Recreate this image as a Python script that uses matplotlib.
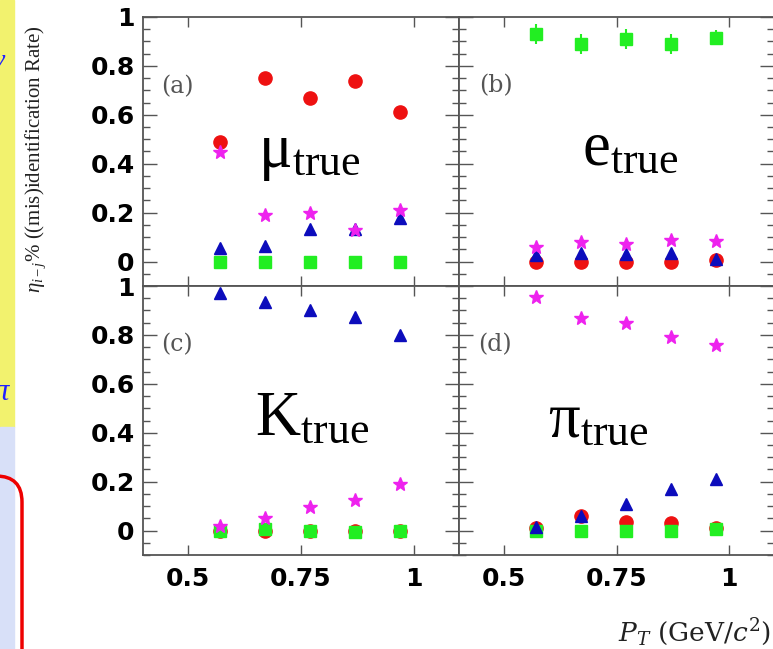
import matplotlib
matplotlib.use("Agg")
import matplotlib.pyplot as plt
from matplotlib.patches import Rectangle, FancyBboxPatch
from matplotlib.ticker import MultipleLocator, FixedLocator

# transverse momentum bin centres (GeV/c)
pt = [0.57, 0.67, 0.77, 0.87, 0.97]

# (a) true muons identified as mu / e / K / pi
a_mu = [0.49, 0.75, 0.67, 0.74, 0.61]
a_e = [0.0, 0.0, 0.0, 0.0, 0.0]
a_k = [0.055, 0.065, 0.135, 0.135, 0.18]
a_pi = [0.45, 0.19, 0.20, 0.13, 0.21]

# (b) true electrons
b_mu = [0.0, 0.0, 0.0, 0.0, 0.005]
b_e = [0.93, 0.89, 0.91, 0.89, 0.915]
b_e_err = [0.04, 0.04, 0.04, 0.04, 0.03]
b_k = [0.025, 0.035, 0.03, 0.035, 0.01]
b_pi = [0.06, 0.08, 0.07, 0.09, 0.085]

# (c) true kaons
c_mu = [0.0, 0.0, 0.0, 0.0, 0.0]
c_e = [0.0, 0.005, 0.0, -0.005, 0.0]
c_k = [0.97, 0.935, 0.90, 0.875, 0.80]
c_pi = [0.02, 0.05, 0.095, 0.125, 0.19]

# (d) true pions
d_mu = [0.01, 0.06, 0.035, 0.03, 0.01]
d_e = [0.0, 0.0, 0.0, 0.0, 0.005]
d_k = [0.015, 0.06, 0.11, 0.17, 0.21]
d_pi = [0.955, 0.87, 0.85, 0.79, 0.76]

panel_tags = ["(a)", "(b)", "(c)", "(d)"]
true_names = ["μ", "e", "K", "π"]
x_ticks = [0.5, 0.75, 1.0]
x_ticklabels = ["0.5", "0.75", "1"]
y_ticks = [0, 0.2, 0.4, 0.6, 0.8, 1.0]
y_ticklabels = ["0", "0.2", "0.4", "0.6", "0.8", "1"]

RED = "#ee1111"
GREEN = "#22ee22"
BLUE = "#0c0cbc"
MAGENTA = "#ee22ee"

plt.rcParams["mathtext.fontset"] = "custom"
plt.rcParams["mathtext.rm"] = "Liberation Serif"
plt.rcParams["mathtext.it"] = "Liberation Serif:italic"

W, H = 773, 649
fig = plt.figure(figsize=(W / 100, H / 100), dpi=100)

# slide decorations on the left edge
fig.patches.append(Rectangle((0, 1 - 427 / H), 14 / W, 427 / H,
                             transform=fig.transFigure, color="#f2f26e", zorder=0))
fig.patches.append(Rectangle((0, 0), 14 / W, 1 - 427 / H,
                             transform=fig.transFigure, color="#d8e0f8", zorder=0))
fig.patches.append(FancyBboxPatch((-200, -200), 222, 200 + (H - 476),
                                  boxstyle="round,pad=0,rounding_size=26",
                                  transform=None, fill=False,
                                  edgecolor="#ee0000", lw=2.5, zorder=1))
fig.text(5 / W, 1 - 62 / H, "ν", color="#2020ff", style="italic",
         family="Liberation Serif", fontsize=20, ha="right", va="center")
fig.text(9 / W, 1 - 392 / H, "π", color="#2020ff", style="italic",
         family="Liberation Serif", fontsize=22, ha="right", va="center")

# 2x2 panel grid, pixel edges converted to figure fractions
col_left = [143, 459]
col_right = [459, 774]
row_top = [17, 286]
row_bottom = [286, 555]

series = [
    (a_mu, a_e, a_k, a_pi, None),
    (b_mu, b_e, b_k, b_pi, b_e_err),
    (c_mu, c_e, c_k, c_pi, None),
    (d_mu, d_e, d_k, d_pi, None),
]
name_pos = [(258, 167), (582, 165), (255, 435), (548, 437)]
tag_pos = [(161, 87), (479, 86), (161, 345), (478, 345)]

for i in range(4):
    r, c = divmod(i, 2)
    x0, x1 = col_left[c], col_right[c]
    y0, y1 = row_top[r], row_bottom[r]
    ax = fig.add_axes([x0 / W, 1 - y1 / H, (x1 - x0) / W, (y1 - y0) / H])
    mu, e, k, pi, e_err = series[i]

    ax.plot(pt, mu, "o", color=RED, ms=9.5, mec=RED, zorder=3)
    if e_err is not None:
        ax.errorbar(pt, e, yerr=e_err, fmt="s", color=GREEN, ms=9,
                    elinewidth=1.5, capsize=0, zorder=4)
    else:
        ax.plot(pt, e, "s", color=GREEN, ms=9, zorder=4)
    ax.plot(pt, k, "^", color=BLUE, ms=9, zorder=5)
    ax.plot(pt, pi, "*", color=MAGENTA, ms=10, mec=MAGENTA, zorder=6)

    ax.set_xlim(0.4, 1.1)
    ax.set_ylim(-0.1, 1.0)
    ax.xaxis.set_major_locator(FixedLocator(x_ticks))
    ax.yaxis.set_major_locator(FixedLocator(y_ticks))
    ax.yaxis.set_minor_locator(MultipleLocator(0.05))
    ax.tick_params(which="both", direction="in", top=True, right=True,
                   color="#555555", width=1)
    ax.tick_params(axis="y", which="major", length=10)
    ax.tick_params(axis="y", which="minor", length=5)
    ax.tick_params(axis="x", which="major", length=7)
    for s in ax.spines.values():
        s.set_color("#555555")
        s.set_linewidth(1.3)

    if r == 1:
        ax.set_xticklabels(x_ticklabels, fontsize=18, fontweight="bold",
                           family="DejaVu Sans")
        ax.tick_params(axis="x", pad=9)
    else:
        ax.set_xticklabels([])
    if c == 0:
        ax.set_yticklabels(y_ticklabels, fontsize=18, fontweight="bold",
                           family="DejaVu Sans")
        ax.tick_params(axis="y", pad=6)
    else:
        ax.set_yticklabels([])

    tx, ty = tag_pos[i]
    fig.text(tx / W, 1 - ty / H, panel_tags[i], family="DejaVu Serif",
             fontsize=17, color="#555555", ha="left", va="center")

    nx, ny = name_pos[i]
    fig.text(nx / W, 1 - ny / H, true_names[i] + r"$_{\rm true}$",
             family="Liberation Serif", fontsize=45, ha="left", va="baseline")

fig.text(36 / W, 1 - 25 / H, r"$\eta_{i-j}$% ((mis)identification Rate)",
         rotation=90, family="Liberation Serif", fontsize=15,
         color="#222222", ha="center", va="top")
fig.text(771 / W, 1 - 632 / H, r"$P_T$ (GeV/$c^2$)",
         family="DejaVu Serif", math_fontfamily="dejavuserif", fontsize=19,
         color="#222222", ha="right", va="center")

fig.savefig("out.png", dpi=100)
